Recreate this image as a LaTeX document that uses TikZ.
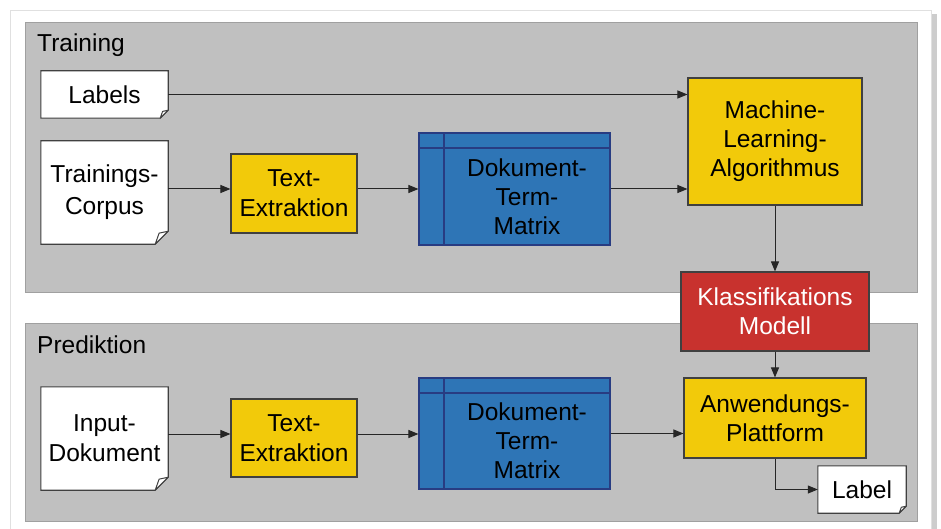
\documentclass[tikz,border=0pt]{standalone}
\usepackage{fontspec}
\setmainfont{Liberation Sans}
\usetikzlibrary{arrows.meta,calc}
\definecolor{panelgray}{RGB}{192,192,192}
\definecolor{panelline}{RGB}{160,160,160}
\definecolor{boxyellow}{RGB}{242,202,10}
\definecolor{boxblue}{RGB}{46,117,182}
\definecolor{blueline}{RGB}{40,60,130}
\definecolor{boxred}{RGB}{200,50,46}
\definecolor{boxline}{RGB}{64,64,64}
\definecolor{shadowgray}{RGB}{205,205,205}
\tikzset{
  base/.style={inner sep=0pt, align=center, font=\fontsize{24.5}{29}\selectfont},
  ybox/.style={base, draw=boxline, line width=1.1pt, fill=boxyellow},
  rbox/.style={base, draw=boxline, line width=1.1pt, fill=boxred, text=white},
  bbox/.style={base, draw=blueline, line width=1.1pt, fill=boxblue},
  docbox/.style={base},
  arr/.style={line width=1pt, draw=black!85, -{Triangle[length=10pt,width=8pt]}},
  paneltitle/.style={anchor=west, inner sep=0pt, font=\fontsize{24.5}{29}\selectfont},
}
\newcommand\docdraw[2]{% name, fold
  \draw[fill=white, draw=boxline, line width=1.1pt]
    (#1.north west) -- (#1.north east) -- ($(#1.south east)+(0,#2)$)
    -- ($(#1.south east)+(-#2,0)$) -- (#1.south west) -- cycle;
  \draw[fill=white, draw=boxline, line width=1pt, line join=round]
    ($(#1.south east)+(0,#2)$) -- ($(#1.south east)+(-0.7*#2,0.85*#2)$)
    -- ($(#1.south east)+(-#2,0)$) -- cycle;
}
\begin{document}
\begin{tikzpicture}[x=1pt,y=-1pt]
\useasboundingbox (0,0) rectangle (941,529);
\fill[white] (0,0) rectangle (941,529);
% card
\fill[shadowgray] (931,14) rectangle (937,529);
\draw[draw=black!12, fill=white, line width=0.8pt] (10,10) rectangle (931,535);
% panels
\draw[fill=panelgray, draw=panelline, line width=1pt] (25,23) rectangle (917,292);
\draw[fill=panelgray, draw=panelline, line width=1pt] (25,323) rectangle (917,521);
\node[paneltitle] (ttrain) at (37,45) {Training};
\node[paneltitle] (tpred) at (37,345) {Prediktion};

% training row
\node[docbox, minimum width=127pt, minimum height=47pt] (labels) at (104.5,94.5) {};
\docdraw{labels}{8pt}
\node[base] at (labels) {Labels};
\node[docbox, minimum width=127pt, minimum height=103pt] (corpus) at (104.5,192.5) {};
\docdraw{corpus}{13pt}
\node[base, font=\fontsize{24.5}{32}\selectfont] at (corpus) {Trainings-\\Corpus};
\node[ybox, minimum width=126pt, minimum height=79pt, font=\fontsize{24.5}{30}\selectfont] (te1) at (294,193.5) {Text-\\Extraktion};
\node[bbox, minimum width=191pt, minimum height=112pt] (dtm1) at (514.5,189) {};
\draw[blueline, line width=1.1pt] (444,133) -- (444,245) (419,148) -- (610,148);
\node[base] (dtm1t) at (527,196.5) {Dokument-\\Term-\\Matrix};
\node[ybox, minimum width=174pt, minimum height=127pt] (ml) at (775,141.5) {Machine-\\Learning-\\Algorithmus};

% red model
\node[rbox, minimum width=188pt, minimum height=79pt] (km) at (775,311.5) {Klassifikations\\Modell};

% prediction row
\node[docbox, minimum width=127pt, minimum height=103pt] (input) at (104.5,438.5) {};
\docdraw{input}{13pt}
\node[base, font=\fontsize{24.5}{30}\selectfont] at (input) {Input-\\Dokument};
\node[ybox, minimum width=126pt, minimum height=78pt, font=\fontsize{24.5}{30}\selectfont] (te2) at (294,438) {Text-\\Extraktion};
\node[bbox, minimum width=191pt, minimum height=111pt] (dtm2) at (514.5,433.5) {};
\draw[blueline, line width=1.1pt] (444,378) -- (444,489) (419,393) -- (610,393);
\node[base] (dtm2t) at (527,441) {Dokument-\\Term-\\Matrix};
\node[ybox, minimum width=182pt, minimum height=80pt] (anw) at (775,418) {Anwendungs-\\Plattform};
\node[docbox, minimum width=88pt, minimum height=47pt] (label) at (862,489.5) {};
\docdraw{label}{7pt}
\node[base] at (label) {Label};

% connectors
\draw[arr] (labels.east) -- (labels.east -| ml.west);
\draw[arr] (corpus.east |- te1.west) ++(0,-4.5) coordinate (c1) -- (c1 -| te1.west);
\draw[arr] (te1.east) ++(0,-4.5) coordinate (c2) -- (c2 -| dtm1.west);
\draw[arr] (dtm1.east) -- (dtm1.east -| ml.west);
\draw[arr] (ml.south) -- (km.north);
\draw[arr] (km.south) -- (anw.north);
\draw[arr] (input.east) ++(0,-4.5) coordinate (c3) -- (c3 -| te2.west);
\draw[arr] (te2.east) ++(0,-4) coordinate (c4) -- (c4 -| dtm2.west);
\draw[arr] (dtm2.east) -- (dtm2.east -| anw.west);
\draw[arr] (anw.south) |- (label.west);
\end{tikzpicture}
\end{document}
